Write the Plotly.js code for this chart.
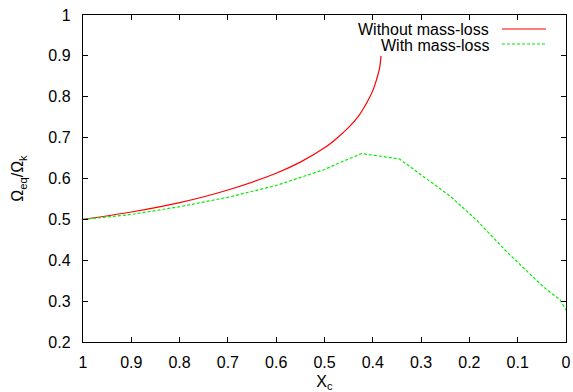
<!DOCTYPE html>
<html>
<head>
<meta charset="utf-8">
<script src="https://cdn.plot.ly/plotly-3.0.1.min.js"></script>
<style>
html,body{margin:0;padding:0;background:#fff;}
#chart{width:573px;height:392px;}
</style>
</head>
<body>
<div id="chart"></div>
<script>
// Data
const xWithout = [1.0, 0.9, 0.8, 0.7, 0.6, 0.55, 0.5, 0.475, 0.45, 0.43, 0.413, 0.40, 0.392, 0.386, 0.383];
const yWithout = [0.5, 0.518, 0.541, 0.572, 0.613, 0.640, 0.675, 0.698, 0.725, 0.752, 0.784, 0.815, 0.843, 0.870, 0.9];

const xWith = [1.0, 0.9, 0.8, 0.7, 0.6, 0.5, 0.468, 0.423, 0.345, 0.24, 0.185, 0.123, 0.047, 0.012, 0.0];
const yWith = [0.5, 0.512, 0.531, 0.554, 0.583, 0.622, 0.639, 0.661, 0.648, 0.557, 0.498, 0.421, 0.335, 0.303, 0.278];

const xTicks = [1, 0.9, 0.8, 0.7, 0.6, 0.5, 0.4, 0.3, 0.2, 0.1, 0];
const xTickText = ["1", "0.9", "0.8", "0.7", "0.6", "0.5", "0.4", "0.3", "0.2", "0.1", "0"];
const yTicks = [0.2, 0.3, 0.4, 0.5, 0.6, 0.7, 0.8, 0.9, 1];
const yTickText = ["0.2", "0.3", "0.4", "0.5", "0.6", "0.7", "0.8", "0.9", "1"];

const legendNames = ["Without mass-loss", "With mass-loss"];
const redColor = "#ff0000";
const greenColor = "#00ee00";

const traces = [
  {x: xWithout, y: yWithout, mode: "lines", name: legendNames[0],
   line: {color: redColor, width: 1.2, shape: "spline", smoothing: 1}, showlegend: false},
  {x: xWith, y: yWith, mode: "lines", name: legendNames[1],
   line: {color: greenColor, width: 1.2, dash: "3px,2px"}, showlegend: false}
];

const font = "Liberation Sans, Arial, Helvetica, sans-serif";
const W = 573, H = 392, L = 83, R = 7, T = 15, B = 50;
const pw = W - L - R, ph = H - T - B;
function px(xp){ return (xp - L) / pw; }
function py(yp){ return 1 - (yp - T) / ph; }

const layout = {
  width: W, height: H,
  margin: {l: L, r: R, t: T, b: B},
  paper_bgcolor: "#fff", plot_bgcolor: "#fff",
  font: {family: font, size: 16, color: "#000"},
  xaxis: {
    range: [1, 0], tickvals: xTicks, ticktext: xTickText,
    ticks: "inside", ticklen: 5, tickwidth: 1, tickcolor: "#000",
    showline: true, linecolor: "#000", linewidth: 1.2, mirror: "allticks",
    showgrid: false, zeroline: false, ticklabelstandoff: 6,
    title: {text: "X<sub>c</sub>", font: {size: 16}, standoff: 5}
  },
  yaxis: {
    range: [0.2, 1], tickvals: yTicks, ticktext: yTickText,
    ticks: "inside", ticklen: 5, tickwidth: 1, tickcolor: "#000",
    showline: true, linecolor: "#000", linewidth: 1.2, mirror: "allticks",
    showgrid: false, zeroline: false, ticklabelstandoff: 8,
    title: {text: "Ω<sub>eq</sub>/Ω<sub>k</sub>", font: {size: 16}, standoff: 20}
  },
  annotations: [
    {xref: "paper", yref: "paper", x: px(491), y: py(30), xanchor: "right", yanchor: "middle",
     text: legendNames[0], showarrow: false, font: {size: 16}},
    {xref: "paper", yref: "paper", x: px(491), y: py(45), xanchor: "right", yanchor: "middle",
     text: legendNames[1], showarrow: false, font: {size: 16}}
  ],
  shapes: [
    {type: "line", xref: "paper", yref: "paper", x0: px(502), x1: px(546), y0: py(29), y1: py(29),
     line: {color: redColor, width: 1.2}},
    {type: "line", xref: "paper", yref: "paper", x0: px(502), x1: px(546), y0: py(44), y1: py(44),
     line: {color: greenColor, width: 1.2, dash: "3px,2px"}}
  ]
};

Plotly.newPlot("chart", traces, layout, {displayModeBar: false, staticPlot: true});
</script>
</body>
</html>
